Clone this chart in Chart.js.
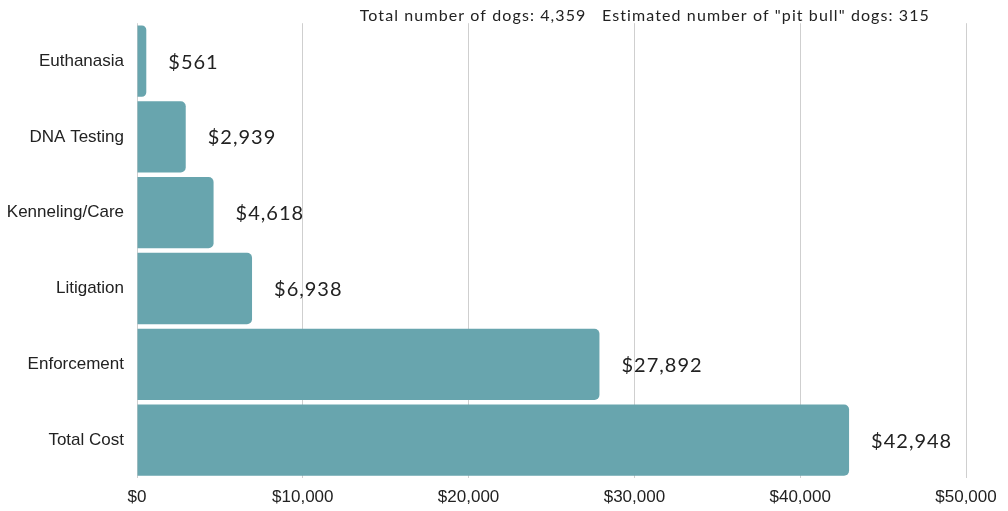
<!DOCTYPE html>
<html>
<head>
<meta charset="utf-8">
<script src="https://cdn.jsdelivr.net/npm/chart.js@4"></script>
<style>
  html, body { margin: 0; padding: 0; background: #fff; }
  #wrap { width: 1008px; height: 511px; }
</style>
</head>
<body>
<div id="wrap"><canvas id="c"></canvas></div>
<script>
// ===== DATA =====
const categories = ['Euthanasia', 'DNA Testing', 'Kenneling/Care', 'Litigation', 'Enforcement', 'Total Cost'];
const costs = [561, 2939, 4618, 6938, 27892, 42948];
const headerText = 'Total number of dogs: 4,359   Estimated number of "pit bull" dogs: 315';

const BAR = '#68a5ae';
const money = (v) => '$' + v.toLocaleString('en-US');

// value labels at bar ends + header line
const labelsPlugin = {
  id: 'valueLabels',
  afterDatasetsDraw(chart) {
    const { ctx, chartArea } = chart;
    const meta = chart.getDatasetMeta(0);
    ctx.save();
    ctx.font = '20px Lato';
    ctx.letterSpacing = '1px';
    ctx.fillStyle = '#222';
    ctx.textBaseline = 'middle';
    ctx.textAlign = 'left';
    meta.data.forEach((bar, i) => {
      ctx.fillText(money(costs[i]), bar.x + 22, bar.y + 1);
    });
    ctx.font = '16px Lato';
    ctx.letterSpacing = '1.1px';
    ctx.textAlign = 'right';
    ctx.textBaseline = 'alphabetic';
    ctx.fillText(headerText, chartArea.right - 36, 21);
    ctx.restore();
  },
};

new Chart(document.getElementById('c'), {
  type: 'bar',
  data: {
    labels: categories,
    datasets: [{
      data: costs,
      backgroundColor: BAR,
      borderRadius: 5,
      barPercentage: 0.94,
      categoryPercentage: 1,
    }],
  },
  options: {
    indexAxis: 'y',
    responsive: true,
    maintainAspectRatio: false,
    animation: false,
    layout: { padding: { top: 21, right: 42, left: 5, bottom: 3 } },
    plugins: { legend: { display: false }, tooltip: { enabled: false } },
    scales: {
      x: {
        min: 0, max: 50000,
        afterFit: (s) => { s.height = 30; },
        ticks: {
          stepSize: 10000,
          maxRotation: 0,
          color: '#222',
          font: { family: 'Liberation Sans', size: 17 },
          padding: 9,
          callback: (v) => money(v),
        },
        grid: { color: '#cfcfcf', drawTicks: false },
        border: { display: false },
      },
      y: {
        afterFit: (s) => { s.width = 132; },
        ticks: {
          color: '#222',
          font: { family: 'Liberation Sans', size: 17 },
          padding: 13,
        },
        grid: { display: false, drawTicks: false },
        border: { display: false },
      },
    },
  },
  plugins: [labelsPlugin],
});
</script>
</body>
</html>
